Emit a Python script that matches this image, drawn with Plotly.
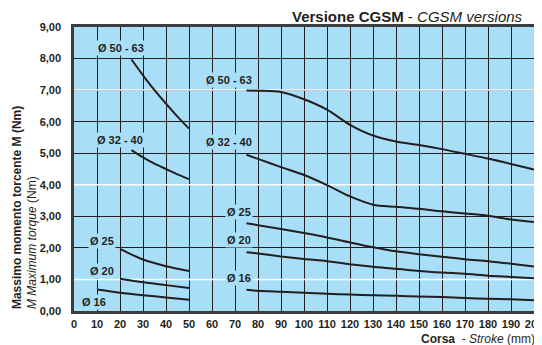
import plotly.graph_objects as go

# ---- data ----
# left group (short strokes)
x_l_5063 = [25, 30, 35, 40, 45, 50]
m_l_5063 = [7.97, 7.47, 7.0, 6.57, 6.16, 5.78]
x_l_3240 = [25, 30, 35, 40, 45, 50]
m_l_3240 = [5.1, 4.87, 4.67, 4.5, 4.33, 4.18]
x_l_25 = [20, 30, 40, 50]
m_l_25 = [1.97, 1.63, 1.42, 1.27]
x_l_20 = [20, 30, 40, 50]
m_l_20 = [1.02, 0.91, 0.82, 0.73]
x_l_16 = [10, 20, 30, 40, 50]
m_l_16 = [0.68, 0.58, 0.5, 0.43, 0.36]

# right group (long strokes)
x_r = [75, 80, 90, 100, 110, 120, 130, 140, 150, 160, 170, 180, 190, 200]
m_r_5063 = [6.99, 6.98, 6.94, 6.71, 6.38, 5.90, 5.56, 5.37, 5.26, 5.13, 4.98, 4.83, 4.66, 4.48]
m_r_3240 = [4.95, 4.82, 4.56, 4.31, 3.99, 3.63, 3.37, 3.30, 3.24, 3.16, 3.09, 3.02, 2.90, 2.82]
m_r_25 = [2.78, 2.72, 2.60, 2.47, 2.33, 2.17, 2.02, 1.89, 1.80, 1.72, 1.64, 1.58, 1.50, 1.41]
m_r_20 = [1.86, 1.82, 1.73, 1.65, 1.58, 1.48, 1.40, 1.34, 1.27, 1.22, 1.18, 1.12, 1.08, 1.04]
m_r_16 = [0.67, 0.64, 0.61, 0.58, 0.55, 0.52, 0.50, 0.48, 0.46, 0.44, 0.41, 0.39, 0.37, 0.34]

# curve labels: (text, x, y)
label_text = ["Ø 50 - 63", "Ø 32 - 40", "Ø 25", "Ø 20", "Ø 16",
              "Ø 50 - 63", "Ø 32 - 40", "Ø 25", "Ø 20", "Ø 16"]
label_x = [20.4, 20.2, 12.2, 12.0, 8.8, 67.4, 67.4, 71.6, 71.6, 71.6]
label_y = [8.33, 5.43, 2.22, 1.26, 0.28, 7.33, 5.34, 3.13, 2.26, 1.05]

x_ticks = list(range(0, 201, 10))
y_ticks = list(range(0, 10))
white_grid = [1, 4, 7]

BG = "#a9def8"
INK = "#231f20"
FONT = "Liberation Sans, Arial, sans-serif"

fig = go.Figure()
series = [
    (x_l_5063, m_l_5063), (x_l_3240, m_l_3240), (x_l_25, m_l_25),
    (x_l_20, m_l_20), (x_l_16, m_l_16),
    (x_r, m_r_5063), (x_r, m_r_3240), (x_r, m_r_25), (x_r, m_r_20), (x_r, m_r_16),
]
for xs, ys in series:
    fig.add_trace(go.Scatter(x=xs, y=ys, mode="lines",
                             line=dict(color=INK, width=2, shape="spline", smoothing=0.8),
                             showlegend=False, hoverinfo="skip"))

for yv in white_grid:
    fig.add_shape(type="line", xref="x", yref="y", x0=0, x1=200, y0=yv, y1=yv,
                  line=dict(color="white", width=1.5), layer="between")

for t, xv, yv in zip(label_text, label_x, label_y):
    fig.add_annotation(x=xv, y=yv, text="<b>" + t + "</b>", showarrow=False,
                       font=dict(family=FONT, size=11, color=INK),
                       bgcolor=BG, borderpad=1)

# title
fig.add_annotation(xref="paper", yref="paper", x=0.980, y=1.0387,
                   xanchor="right", yanchor="middle", showarrow=False,
                   text="<b>Versione CGSM</b> - <i>CGSM versions</i>",
                   font=dict(family=FONT, size=15, color=INK))
# x axis title
fig.add_annotation(xref="paper", yref="paper", x=1.0065, y=-0.099,
                   xanchor="right", yanchor="middle", showarrow=False,
                   text="<b>Corsa</b>  - <i>Stroke</i> (mm)",
                   font=dict(family=FONT, size=12, color=INK))
# y axis titles
fig.add_annotation(xref="paper", yref="paper", x=-0.1239, y=-0.002,
                   xanchor="center", yanchor="bottom", showarrow=False, textangle=-90,
                   text="<b>Massimo momento torcente M (Nm)</b>",
                   font=dict(family=FONT, size=12, color=INK))
fig.add_annotation(xref="paper", yref="paper", x=-0.0913, y=-0.002,
                   xanchor="center", yanchor="bottom", showarrow=False, textangle=-90,
                   text="<i>M Maximum torque</i> (Nm)",
                   font=dict(family=FONT, size=12, color=INK))

# page body has an 8px margin, so the figure is sized/offset to compensate
fig.update_layout(
    width=534, height=337,
    margin=dict(l=66, r=8, t=19, b=33.5),
    paper_bgcolor="white", plot_bgcolor=BG,
    separators=",.",
    font=dict(family=FONT, color=INK),
)
fig.update_xaxes(range=[0, 200], tickvals=x_ticks, ticktext=[str(v) for v in x_ticks],
                 showgrid=True, gridcolor=INK, gridwidth=1,
                 showline=True, linecolor="#3c3c3c", linewidth=2.5, mirror=True,
                 ticks="outside", ticklen=1, tickcolor="rgba(0,0,0,0)",
                 tickfont=dict(family=FONT, size=11, color=INK, weight="bold"),
                 ticklabeloverflow="allow",
                 zeroline=False, fixedrange=True, automargin=False)
fig.update_yaxes(range=[0, 9], tickvals=y_ticks, tickformat=".2f",
                 showgrid=True, gridcolor=INK, gridwidth=1,
                 showline=True, linecolor="#3c3c3c", linewidth=2.5, mirror=True,
                 ticks="outside", ticklen=8, tickcolor="rgba(0,0,0,0)",
                 tickfont=dict(family=FONT, size=11, color=INK, weight="bold"),
                 zeroline=False, fixedrange=True, automargin=False)

fig.write_html("out.html")
